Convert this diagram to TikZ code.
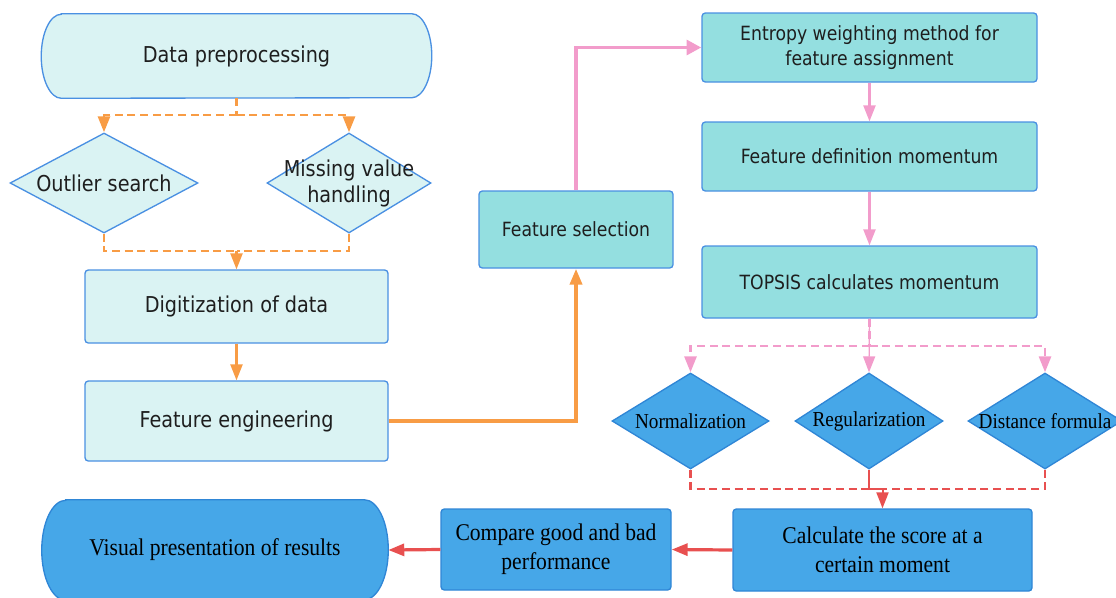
\documentclass[tikz,border=0pt]{standalone}
\usepackage{fontspec}
\setmainfont{DejaVu Sans}[FakeStretch=0.88]
\newfontfamily\serifface{Liberation Serif}[FakeStretch=0.9]
\usetikzlibrary{positioning,shapes.geometric,arrows.meta,backgrounds}
\definecolor{liteC}{HTML}{DAF3F3}
\definecolor{tealC}{HTML}{94DFE0}
\definecolor{deepC}{HTML}{46A7E8}
\definecolor{lineC}{HTML}{4A90E2}
\definecolor{deepline}{HTML}{2F86D6}
\definecolor{oraC}{HTML}{F89C45}
\definecolor{pinkC}{HTML}{F29CCB}
\definecolor{redC}{HTML}{E85050}
\definecolor{inkC}{HTML}{1E1E1E}
\tikzset{
  px/.style 2 args={minimum width=#1*0.75pt, minimum height=#2*0.75pt},
  box/.style={draw=lineC, line width=1pt, rounded corners=2.5pt, inner sep=0pt, align=center, text=inkC},
  sanstxt/.style={text=inkC, align=center, font=\fontsize{16.4}{19.5}\selectfont},
  serftxt/.style={text=black, align=center, font=\serifface\fontsize{16}{19}\selectfont},
  litebox/.style={box, fill=liteC, font=\fontsize{16.4}{19.5}\selectfont},
  tealbox/.style={box, fill=tealC, font=\fontsize{14.7}{18.75}\selectfont},
  deepbox/.style={box, draw=deepline, fill=deepC, text=black, font=\serifface\fontsize{18}{21.5}\selectfont},
  stadtext/.style={inner sep=0pt, align=center, text=inkC},
  diam/.style={diamond, draw=lineC, line width=1pt, inner sep=0pt},
  tipA/.style={-{Triangle[width=9pt,length=12pt]}},
  odash/.style={draw=oraC, line width=2.1pt, dash pattern=on 6pt off 3.5pt},
  oline/.style={draw=oraC, line width=1.7pt},
  pdash/.style={draw=pinkC, line width=2.1pt, dash pattern=on 6pt off 3.5pt},
  pline/.style={draw=pinkC, line width=1.7pt},
  rdash/.style={draw=redC, line width=2.1pt, dash pattern=on 6pt off 3.5pt},
  rline/.style={draw=redC, line width=2.4pt}
}
\begin{document}
\begin{tikzpicture}[x=0.75pt,y=-0.75pt]
\useasboundingbox (0,0) rectangle (1116,597);

\node[stadtext, px={390}{84}, font=\fontsize{16.4}{19.5}\selectfont] (pre) at (236.5,56) {Data preprocessing};
\node[diam, fill=liteC, px={188}{100}, label={[sanstxt]center:Outlier search}] (outl) at (104,183) {};
\node[diam, fill=liteC, px={164}{100}, label={[sanstxt]center:{Missing value\\handling}}] (miss) at (349,183) {};
\node[litebox, px={303}{73}] (dig) at (236.5,306.5) {Digitization of data};
\node[litebox, px={303}{80}] (feat) at (236.5,421) {Feature engineering};
\node[tealbox, px={194}{77}] (sel) at (576,229.5) {Feature selection};
\node[tealbox, px={335}{69}] (ent) at (869.5,47.5) {Entropy weighting method for\\feature assignment};
\node[tealbox, px={335}{69}] (fdef) at (869.5,156.5) {Feature definition momentum};
\node[tealbox, px={335}{72}] (top) at (869.5,282) {TOPSIS calculates momentum};
\node[diam, draw=deepline, fill=deepC, px={157}{96}, label={[serftxt]center:Normalization}] (norm) at (690.5,421) {};
\node[diam, draw=deepline, fill=deepC, px={148}{96}, label={[serftxt]center:Regularization}] (reg) at (869,421) {};
\node[diam, draw=deepline, fill=deepC, px={154}{96}, label={[serftxt]center:Distance formula}] (dist) at (1045,421) {};
\node[deepbox, px={299}{82}] (calc) at (882.5,550) {Calculate the score at a\\certain moment};
\node[deepbox, px={230}{81}] (comp) at (556,549.5) {Compare good and bad\\performance};
\node[stadtext, px={346}{100}, text=black, font=\serifface\fontsize{18}{21.5}\selectfont] (vis) at (215,550) {Visual presentation of results};

\begin{scope}[on background layer]
\draw[draw=lineC, fill=liteC, line width=1pt] ([xshift=15pt]pre.north west) -- ([xshift=-15pt]pre.north east)
  arc[start angle=90, end angle=-90, x radius=15pt, y radius=31.5pt] -- ([xshift=15pt]pre.south west)
  arc[start angle=270, end angle=90, x radius=15pt, y radius=31.5pt] -- cycle;
\draw[draw=deepline, fill=deepC, line width=1pt] ([xshift=18pt]vis.north west) -- ([xshift=-18pt]vis.north east)
  arc[start angle=90, end angle=-90, x radius=18pt, y radius=37.5pt] -- ([xshift=18pt]vis.south west)
  arc[start angle=270, end angle=90, x radius=18pt, y radius=37.5pt] -- cycle;
\end{scope}

\coordinate (osplit) at (236.5,115);
\coordinate (ojoin) at (236.5,251);
\draw[odash] (pre.south) -- (osplit);
\draw[odash, tipA] (osplit) -| (outl.north);
\draw[odash, tipA] (osplit) -| (miss.north);
\draw[odash] (outl.south) |- (ojoin);
\draw[odash] (miss.south) |- (ojoin);
\draw[oline, tipA] (ojoin) -- (dig.north);
\draw[oline, tipA] (dig.south) -- (feat.north);
\draw[oline, line width=2.8pt, tipA] (feat.east) -| (sel.south);

\draw[pline, line width=2.8pt, -{Triangle[width=11pt,length=11pt]}] (sel.north) |- (ent.west);
\draw[pline, tipA] (ent.south) -- (fdef.north);
\draw[pline, tipA] (fdef.south) -- (top.north);
\coordinate (psplit) at (869.5,346);
\draw[pline, line width=1pt, tipA] (top.south) -- (reg.north);
\draw[pdash] (top.south) -- (psplit);
\draw[pdash, tipA] (psplit) -| (norm.north);
\draw[pdash, tipA] (psplit) -| (dist.north);

\coordinate (rjoin) at (882.5,489);
\draw[rdash] (norm.south) |- (rjoin);
\draw[rdash] (dist.south) |- (rjoin);
\draw[rline, line width=1pt] (reg.south) |- (rjoin);
\draw[rline, line width=1.5pt, tipA] (rjoin) -- (calc.north);
\draw[rline, tipA] (calc.west) -- (comp.east);
\draw[rline, tipA] (comp.west) -- (vis.east);
\end{tikzpicture}
\end{document}
